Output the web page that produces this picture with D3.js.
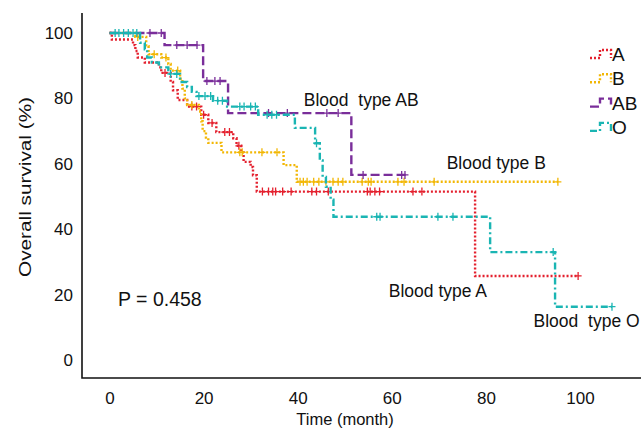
<!DOCTYPE html>
<html>
<head>
<meta charset="utf-8">
<script src="https://cdn.jsdelivr.net/npm/d3@7/dist/d3.min.js"></script>
<style>
  body { margin: 0; background: #fff; }
  svg { display: block; font-family: "Liberation Sans", Arial, sans-serif; }
  text { white-space: pre; }
</style>
</head>
<body>
<svg id="chart" width="641" height="434"></svg>
<script>
// Kaplan-Meier steps: [time, survival %]
const groups = ["A", "B", "AB", "O"];
const stepsA = [[0,100],[0.5,98],[5,96.3],[5.5,94.5],[6,92.5],[7.5,91],[10.5,89.5],[11,87.8],[13,85],[13.5,82.5],[14.5,79.5],[16.5,77.5],[19.5,75],[21,72.5],[22.7,69.7],[26.3,67.8],[27,65.5],[28,63.5],[28.5,60.6],[30,59],[30.5,56.5],[31.3,51.5],[77.7,25.7]];
const stepsB = [[0,100],[5.5,98.8],[7.8,96],[8.3,93.5],[11,92.5],[12.5,90.5],[13,88.5],[15,86],[15.5,83],[16,80],[16.5,78],[19,76],[19.5,73],[19.8,70],[20.5,68],[21,66.4],[23.8,63.5],[37,59.6],[39.8,54.5]];
const stepsAB = [[0,100],[11.7,96.3],[19.9,85.3],[25.2,75.5],[51.4,56.6]];
const stepsO = [[0,100],[6.5,97],[7.5,95],[8,92.5],[9,91],[10.5,89.5],[12.5,87.5],[15,85],[16.5,83.5],[17.5,82],[18.5,80.7],[22,79.3],[25,77.5],[31.6,75],[39.4,71],[43.7,66.3],[44.7,61],[45.3,56],[46,53],[47,49],[47.6,43.8],[80.9,33],[94.7,16.3]];
const endTimes = [99.6, 95.3, 63.2, 106.8];
// censored times
const censorA = [11.8, 17.5, 18.5, 20, 21.8, 24.5, 25.5, 27.5, 32.5, 33.8, 34.7, 35.3, 36.8, 38.6, 43, 44, 46.5, 54.8, 55.4, 56.4, 57.4, 64.5, 66.4, 99.6];
const censorB = [6, 9.5, 12, 14.5, 17.5, 27.7, 28.2, 32.4, 35.6, 40.5, 41.2, 42, 43.4, 44.5, 46, 47.5, 48.6, 49.6, 53.7, 55, 55.6, 61.3, 62.6, 69, 95.3];
const censorAB = [8.6, 11, 14.3, 16.5, 18.6, 20.7, 22.4, 23.5, 33.8, 37.8, 46.2, 48.6, 53.9, 62.1, 62.8];
const censorO = [1.2, 2, 3, 4, 5, 5.8, 13, 14.3, 19, 20.3, 21.5, 23, 24, 27.7, 28.6, 30, 31, 33.5, 34.5, 35.5, 44, 56.8, 57.5, 69.8, 73, 94.3, 106.8];
const xTicks = [0, 20, 40, 60, 80, 100];
const yTicks = [0, 20, 40, 60, 80, 100];
const curveLabels = [
  {text: "Blood type A", t: 69.8, v: 19.3},
  {text: "Blood type B", t: 82.2, v: 58.4},
  {text: "Blood  type AB", t: 53.5, v: 77.7},
  {text: "Blood  type O", t: 101.4, v: 10.1}
];

const colors = ["#e4202e", "#f2b705", "#7a2e9a", "#1ab5b3"];
const dashes = ["2,2", "2,2", "9,4", "7,3,2,3"];

const svg = d3.select("#chart");
const x = d3.scaleLinear().domain([0, 100]).range([109.5, 580]);
const y = d3.scaleLinear().domain([0, 100]).range([360, 33]);

// axes: ticks without tick marks, lines drawn separately
svg.append("g")
  .attr("transform", "translate(0,378)")
  .call(d3.axisBottom(x).tickValues(xTicks).tickSize(0).tickPadding(14))
  .call(g => g.select(".domain").remove())
  .selectAll("text").attr("font-size", 17).attr("font-family", "Liberation Sans, Arial, sans-serif").attr("fill", "#111");

svg.append("g")
  .attr("transform", "translate(82,0)")
  .call(d3.axisLeft(y).tickValues(yTicks).tickSize(0).tickPadding(9))
  .call(g => g.select(".domain").remove())
  .selectAll("text").attr("font-size", 17).attr("font-family", "Liberation Sans, Arial, sans-serif").attr("fill", "#111");

svg.append("path")
  .attr("d", "M82,13V378H641")
  .attr("fill", "none")
  .attr("stroke", "#111")
  .attr("stroke-width", 1.6);

svg.append("text")
  .attr("x", 345).attr("y", 425)
  .attr("text-anchor", "middle")
  .attr("font-size", 16.5)
  .attr("fill", "#111")
  .text("Time (month)");

svg.append("text")
  .attr("transform", "translate(31,187) rotate(-90)")
  .attr("text-anchor", "middle")
  .attr("font-size", 17)
  .attr("textLength", 180)
  .attr("lengthAdjust", "spacingAndGlyphs")
  .attr("fill", "#111")
  .text("Overall survival (%)");

const allSteps = [stepsA, stepsB, stepsAB, stepsO];
const allCensor = [censorA, censorB, censorAB, censorO];

function survAt(steps, t) {
  let v = steps[0][1];
  steps.forEach(s => { if (s[0] <= t) v = s[1]; });
  return v;
}

const line = d3.line()
  .x(d => x(d[0]))
  .y(d => y(d[1]))
  .curve(d3.curveStepAfter);

allSteps.forEach((steps, i) => {
  const pts = steps.concat([[endTimes[i], steps[steps.length - 1][1]]]);
  svg.append("path")
    .datum(pts)
    .attr("d", line)
    .attr("fill", "none")
    .attr("stroke", colors[i])
    .attr("stroke-width", 2.4)
    .attr("stroke-dasharray", dashes[i]);

  const g = svg.append("g").attr("stroke", colors[i]).attr("stroke-width", 1.3);
  g.selectAll("path")
    .data(allCensor[i])
    .join("path")
    .attr("d", t => {
      const cx = x(t), cy = y(survAt(steps, t));
      return `M${cx - 3.5},${cy}H${cx + 3.5}M${cx},${cy - 4}V${cy + 4}`;
    });
});

// curve labels
svg.append("g")
  .attr("font-size", 17.5)
  .attr("fill", "#111")
  .attr("text-anchor", "middle")
  .selectAll("text")
  .data(curveLabels)
  .join("text")
  .attr("x", d => x(d.t))
  .attr("y", d => y(d.v))
  .text(d => d.text);

svg.append("text")
  .attr("x", 118).attr("y", 306)
  .attr("font-size", 19.5)
  .attr("fill", "#111")
  .text("P = 0.458");

// legend
const legend = svg.append("g")
  .selectAll("g")
  .data(groups)
  .join("g")
  .attr("transform", (d, i) => `translate(590,${55 + i * 24.3})`);
legend.append("path")
  .attr("d", "M0,3H10V-5H21V3")
  .attr("fill", "none")
  .attr("stroke", (d, i) => colors[i])
  .attr("stroke-width", 2.4)
  .attr("stroke-dasharray", (d, i) => dashes[i]);
legend.append("text")
  .attr("x", 22).attr("y", 6)
  .attr("font-size", 19)
  .attr("fill", "#111")
  .text(d => d);
</script>
</body>
</html>
